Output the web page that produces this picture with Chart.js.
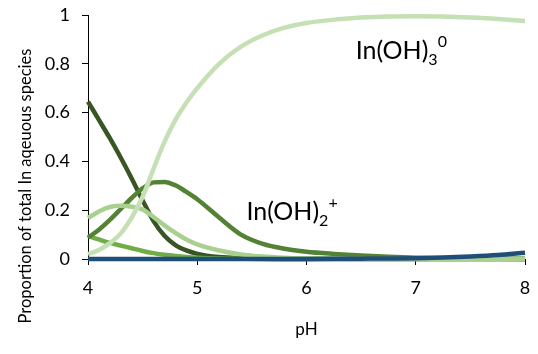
<!DOCTYPE html>
<html lang="en">
<head>
  <meta charset="UTF-8">
  <title>Indium hydrolysis speciation</title>
  <script src="https://cdn.jsdelivr.net/npm/chart.js"></script>
  <style>
    html, body { margin: 0; padding: 0; background: #fff; }
    .chart-box { width: 538px; height: 354px; position: relative; }
  </style>
</head>
<body>
  <div class="chart-box">
    <canvas id="speciesChart"></canvas>
  </div>

  <script>
    // pH values the curves were read at
    const pH = [4.0, 4.1, 4.2, 4.3, 4.4, 4.5, 4.6, 4.7, 4.8, 4.9, 5.0,
                5.2, 5.4, 5.6, 5.8, 6.0, 6.25, 6.5, 6.75, 7.0, 7.25, 7.5, 7.75, 8.0];

    // proportion of total In in each aqueous species
    const inIII    = [0.645, 0.57, 0.495, 0.415, 0.33, 0.24, 0.155, 0.095, 0.057, 0.035, 0.021,
                      0.008, 0.003, 0.001, 0, 0, 0, 0, 0, 0, 0, 0, 0, 0];
    const inOH     = [0.095, 0.08, 0.066, 0.055, 0.044, 0.033, 0.024, 0.017, 0.012, 0.008, 0.005,
                      0.002, 0.001, 0, 0, 0, 0, 0, 0, 0, 0, 0, 0, 0];
    const inOH2    = [0.088, 0.12, 0.16, 0.205, 0.25, 0.29, 0.314, 0.316, 0.302, 0.275, 0.245,
                      0.17, 0.1, 0.062, 0.042, 0.03, 0.021, 0.014, 0.009, 0.005, 0.003, 0.002, 0.001, 0];
    const other    = [0.168, 0.195, 0.213, 0.218, 0.214, 0.203, 0.172, 0.138, 0.107, 0.08, 0.06,
                      0.035, 0.019, 0.01, 0.005, 0.002, 0, 0, 0, 0, 0, 0, 0, 0];
    const inOH3    = [0.02, 0.037, 0.065, 0.105, 0.17, 0.255, 0.37, 0.48, 0.57, 0.64, 0.70,
                      0.8, 0.87, 0.917, 0.948, 0.967, 0.981, 0.99, 0.994, 0.995, 0.994, 0.99, 0.984, 0.975];
    const inOH4    = [0, 0, 0, 0, 0, 0, 0, 0, 0, 0, 0,
                      0, 0, 0, 0, 0.0005, 0.001, 0.0015, 0.002, 0.003, 0.006, 0.01, 0.016, 0.026];

    const xTicks = [4, 5, 6, 7, 8];
    const yTicks = [0, 0.2, 0.4, 0.6, 0.8, 1];
    const yTitle = 'Proportion of total In aqeuous species';

    const FONT = 'Lato, "Open Sans", sans-serif';

    function pts(values) {
      return values.map((v, i) => ({ x: pH[i], y: v }));
    }

    function series(label, values, color, order) {
      return {
        label: label,
        data: pts(values),
        borderColor: color,
        backgroundColor: color,
        borderWidth: 4.5,
        pointRadius: 0,
        cubicInterpolationMode: 'monotone',
        clip: false,
        order: order
      };
    }

    // species labels with sub/superscripts, placed in data units
    const speciesLabels = {
      id: 'speciesLabels',
      afterDatasetsDraw(chart) {
        const ctx = chart.ctx;
        const xs = chart.scales.x, ys = chart.scales.y;
        const items = [
          { x: 6.45, y: 0.818, base: 'In(OH)', sub: '3', sup: '0' },
          { x: 5.45, y: 0.16, base: 'In(OH)', sub: '2', sup: '+' }
        ];
        ctx.save();
        ctx.fillStyle = '#000';
        ctx.textBaseline = 'alphabetic';
        ctx.textAlign = 'left';
        items.forEach(it => {
          let px = xs.getPixelForValue(it.x);
          const py = ys.getPixelForValue(it.y);
          ctx.font = '25px ' + FONT;
          ctx.fillText(it.base, px, py);
          px += ctx.measureText(it.base).width;
          ctx.font = '16px ' + FONT;
          ctx.fillText(it.sub, px, py + 6);
          px += ctx.measureText(it.sub).width;
          ctx.fillText(it.sup, px, py - 12);
        });
        ctx.restore();
      }
    };

    // the y title sits lower than the plot centre in the original, so draw it here
    const yTitlePlugin = {
      id: 'yTitlePlugin',
      afterDraw(chart) {
        const ctx = chart.ctx;
        ctx.save();
        ctx.translate(26, 186);
        ctx.rotate(-Math.PI / 2);
        ctx.font = '16.5px ' + FONT;
        ctx.fillStyle = '#000';
        ctx.textAlign = 'center';
        ctx.textBaseline = 'middle';
        ctx.fillText(yTitle, 0, 0);
        ctx.restore();
      }
    };

    const ctx = document.getElementById('speciesChart').getContext('2d');
    const chart = new Chart(ctx, {
      type: 'line',
      data: {
        datasets: [
          series('In3+', inIII, '#375623', 6),
          series('InOH2+', inOH, '#70AD47', 5),
          series('In(OH)2+', inOH2, '#548235', 4),
          series('other', other, '#A9D08E', 3),
          series('In(OH)3', inOH3, '#C5E0B4', 2),
          series('In(OH)4-', inOH4, '#1F4E79', 1)
        ]
      },
      options: {
        responsive: true,
        maintainAspectRatio: false,
        animation: false,
        devicePixelRatio: 1,
        layout: { padding: { top: 15, right: 13, left: 0, bottom: 0 } },
        plugins: {
          legend: { display: false },
          tooltip: { enabled: false }
        },
        scales: {
          x: {
            type: 'linear',
            min: 4,
            max: 8,
            afterBuildTicks: s => { s.ticks = xTicks.map(v => ({ value: v })); },
            afterFit: s => { s.height = 95; s.paddingLeft = 0; s.paddingRight = 0; },
            border: { display: true, color: '#000', width: 1 },
            grid: { display: true, drawOnChartArea: false, drawTicks: true, tickLength: 6, color: '#000' },
            ticks: { color: '#000', font: { family: FONT, size: 18 }, padding: 12, callback: v => String(v) },
            title: { display: true, text: 'pH', color: '#000', font: { family: FONT, size: 17 },
                     padding: { top: 0, bottom: 14 } }
          },
          y: {
            min: 0,
            max: 1,
            afterBuildTicks: s => { s.ticks = yTicks.map(v => ({ value: v })); },
            afterFit: s => { s.width = 88; s.paddingTop = 0; s.paddingBottom = 0; },
            border: { display: true, color: '#000', width: 1 },
            grid: { display: true, drawOnChartArea: false, drawTicks: true, tickLength: 6, color: '#000' },
            ticks: { color: '#000', font: { family: FONT, size: 18 }, padding: 12, callback: v => String(v) },
            title: { display: false }
          }
        }
      },
      plugins: [speciesLabels, yTitlePlugin]
    });
  </script>
</body>
</html>
